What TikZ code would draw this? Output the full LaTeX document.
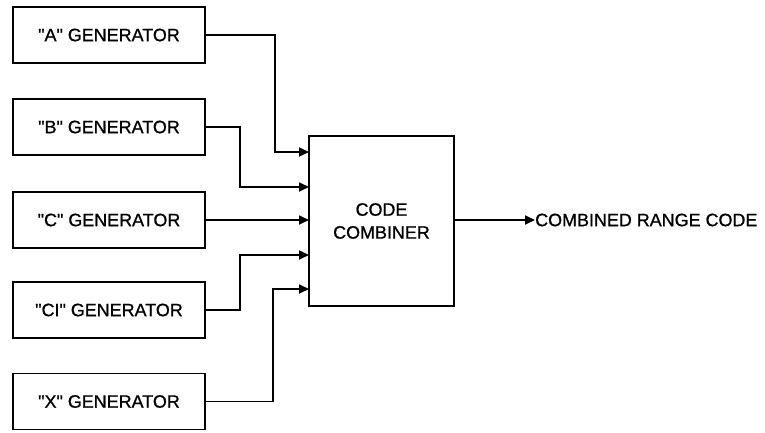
\documentclass[tikz,border=0pt]{standalone}
\usepackage{fontspec}
\setmainfont{Liberation Sans}[Ligatures=TeXOff,UprightFeatures={FakeBold=0.9}]
\usetikzlibrary{arrows.meta}
\newcommand{\qq}{\symbol{34}}
\begin{document}
\begin{tikzpicture}[x=1bp,y=-1bp,
  genbox/.style={draw,line width=1.7bp,minimum width=192bp,minimum height=56bp,inner sep=0pt,font=\fontsize{18}{20}\selectfont},
  combbox/.style={draw,line width=1.7bp,minimum width=145bp,minimum height=170bp,inner sep=0pt,align=center,font=\fontsize{18}{23}\selectfont},
  conn/.style={line width=1.7bp,-{Triangle[length=10bp,width=9bp]}},
  lbl/.style={font=\fontsize{18}{20}\selectfont,inner sep=0pt,anchor=west}]
\useasboundingbox (0,0) rectangle (765,432);
\node[genbox] (A) at (109,35) {\qq A\qq{} GENERATOR};
\node[genbox] (B) at (109,127) {\qq B\qq{} GENERATOR};
\node[genbox] (C) at (109,220) {\qq C\qq{} GENERATOR};
\node[genbox] (CI) at (109,310) {\qq CI\qq{} GENERATOR};
\node[genbox] (X) at (109,401.5) {\qq X\qq{} GENERATOR};
\node[combbox] (comb) at (381.5,221) {CODE\\COMBINER};
\coordinate (inA) at (309,152);
\coordinate (inB) at (309,187);
\coordinate (inC) at (309,220);
\coordinate (inCI) at (309,255);
\coordinate (inX) at (309,289);
\coordinate (kA) at (275,0);
\coordinate (kB) at (240,0);
\coordinate (kCI) at (240,0);
\coordinate (kX) at (273,0);
\draw[conn] (A.east) -| (kA |- inA) -- (inA);
\draw[conn] (B.east) -| (kB |- inB) -- (inB);
\draw[conn] (C.east) -- (inC);
\draw[conn] (CI.east) -| (kCI |- inCI) -- (inCI);
\draw[conn] (X.east) -| (kX |- inX) -- (inX);
\node[lbl] (out) at (535,220) {COMBINED RANGE CODE};
\draw[conn] (comb.east |- out.west) -- (out.west);
\end{tikzpicture}
\end{document}
